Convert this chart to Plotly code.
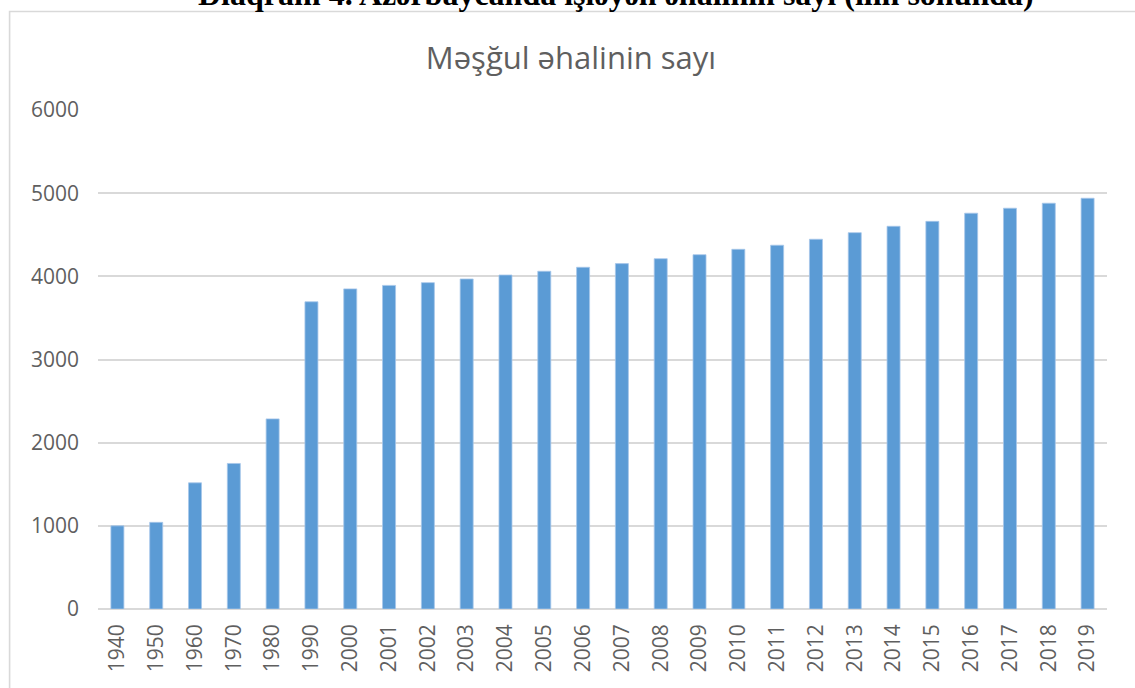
import plotly.graph_objects as go

years = ["1940", "1950", "1960", "1970", "1980", "1990", "2000", "2001", "2002",
         "2003", "2004", "2005", "2006", "2007", "2008", "2009", "2010", "2011",
         "2012", "2013", "2014", "2015", "2016", "2017", "2018", "2019"]
employed = [1000, 1042, 1517, 1750, 2286, 3694, 3849, 3891, 3924,
            3968, 4016, 4061, 4109, 4153, 4212, 4260, 4325, 4374,
            4446, 4525, 4602, 4661, 4759, 4819, 4879, 4939]
y_ticks = [0, 1000, 2000, 3000, 4000, 5000, 6000]

chart_title = "Məşğul əhalinin sayı"
doc_caption = "Diaqram 4. Azərbaycanda işləyən əhalinin sayı (ilin sonunda)"

W, H = 1135, 688
L, R, T, B = 97.5, 27.5, 110, 79
pw, ph = W - L - R, H - T - B

def px_x(x):
    return (x - L) / pw

def px_y(y):
    return 1 + (T - y) / ph

fig = go.Figure()
fig.add_trace(go.Bar(
    x=years, y=employed,
    marker=dict(color="#5B9BD5", line=dict(color="#A7C7EA", width=0.8)),
    hoverinfo="x+y",
))

grid = "#D9D9D9"
text_col = "#5F5F5F"
fig.update_layout(
    width=W, height=H,
    margin=dict(l=L, r=R, t=T, b=B, pad=0),
    paper_bgcolor="white", plot_bgcolor="white",
    bargap=0.665,
    showlegend=False,
    font=dict(family="Open Sans, sans-serif", color=text_col),
    title=dict(text=chart_title, x=571 / W, xanchor="center", xref="container",
               y=1 - 58 / H, yanchor="middle", yref="container",
               font=dict(size=31, color=text_col, family="Open Sans, sans-serif")),
    xaxis=dict(type="category", tickangle=-90, showgrid=False, showline=False,
               ticks="", tickfont=dict(size=21, color=text_col),
               ticklabelstandoff=10, zeroline=False),
    yaxis=dict(range=[0, 6000], tickvals=y_ticks, showgrid=True, gridcolor=grid,
               gridwidth=1.6, zeroline=True, zerolinecolor=grid, zerolinewidth=1.6,
               showline=False, ticks="", tickfont=dict(size=21, color=text_col),
               ticklabelstandoff=18),
    shapes=[dict(type="rect", xref="paper", yref="paper",
                 x0=px_x(9), x1=px_x(1145), y0=px_y(700), y1=px_y(11.5),
                 line=dict(color="#D9D9D9", width=1.6), fillcolor="rgba(0,0,0,0)",
                 layer="below")],
    annotations=[dict(text="<b>" + doc_caption + "</b>", xref="paper", yref="paper",
                      x=px_x(616), y=px_y(-6), xanchor="center", yanchor="middle",
                      showarrow=False,
                      font=dict(family="Liberation Serif, Times New Roman, serif",
                                size=32, color="black"))],
)

fig.write_html(
    "out.html",
    config={"displayModeBar": False},
    post_script="document.body.style.margin='0';document.body.style.overflow='hidden';",
)
